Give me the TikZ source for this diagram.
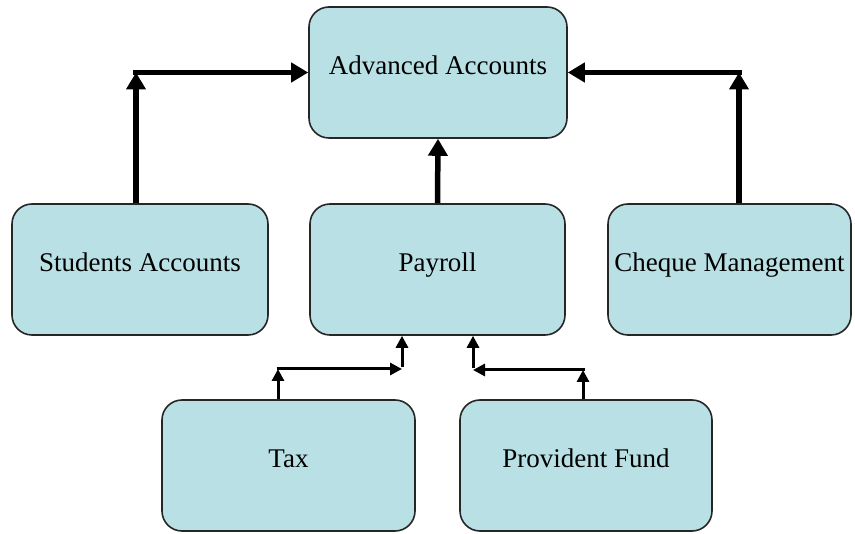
\documentclass[tikz,border=0pt]{standalone}
\usepackage{fontspec}
\setmainfont{Liberation Serif}
\usetikzlibrary{arrows.meta}
\definecolor{boxfill}{RGB}{185,224,228}
\begin{document}
\begin{tikzpicture}[x=1pt,y=-1pt,
  box/.style={draw=black!85, line width=1.6pt, fill=boxfill, rounded corners=20pt,
    inner sep=0pt, font=\fontsize{27}{32}\selectfont, text height=20pt, text depth=16pt},
  bigarrow/.style={line width=5.5pt, -{Triangle[length=17pt,width=19pt]}},
  smallarrow/.style={line width=3pt, -{Triangle[length=12pt,width=12pt]}}]
\useasboundingbox (0,0) rectangle (855,534);
\node[box, minimum width=258pt, minimum height=131pt] (aa) at (438,72.5) {Advanced Accounts};
\node[box, minimum width=256pt, minimum height=131pt] (sa) at (140,269.5) {Students Accounts};
\node[box, minimum width=255pt, minimum height=131pt] (pr) at (437.5,269.5) {Payroll};
\node[box, minimum width=243pt, minimum height=131pt] (cm) at (729.5,269.5) {Cheque Management};
\node[box, minimum width=253pt, minimum height=131pt] (tx) at (288.5,465.5) {Tax};
\node[box, minimum width=252pt, minimum height=131pt] (pf) at (586,465.5) {Provident Fund};
% corners
\coordinate (c1) at (136,72.5);
\coordinate (c2) at (739,72.5);
\coordinate (t1) at (278,369);
\coordinate (t2) at (402,369);
\coordinate (p1) at (583,370);
\coordinate (p2) at (473,370);
% big arrows
\draw[bigarrow] ([xshift=-4pt]sa.north) -- (c1);
\draw[bigarrow] ([xshift=-2.75pt]c1) -- (aa.west);
\draw[bigarrow] ([xshift=9.5pt]cm.north) -- (c2);
\draw[bigarrow] ([xshift=2.75pt]c2) -- (aa.east);
\draw[bigarrow] (pr.north) -- (aa.south);
% small arrows
\draw[smallarrow] ([xshift=-10.5pt]tx.north) -- (t1);
\draw[smallarrow] ([xshift=-1.5pt]t1) -- (t2);
\draw[smallarrow] ([yshift=1.5pt]t2) -- (t2 |- pr.south);
\draw[smallarrow] ([xshift=-3pt]pf.north) -- (p1);
\draw[smallarrow] ([xshift=1.5pt]p1) -- (p2);
\draw[smallarrow] ([yshift=1.5pt]p2) -- (p2 |- pr.south);
\end{tikzpicture}
\end{document}
